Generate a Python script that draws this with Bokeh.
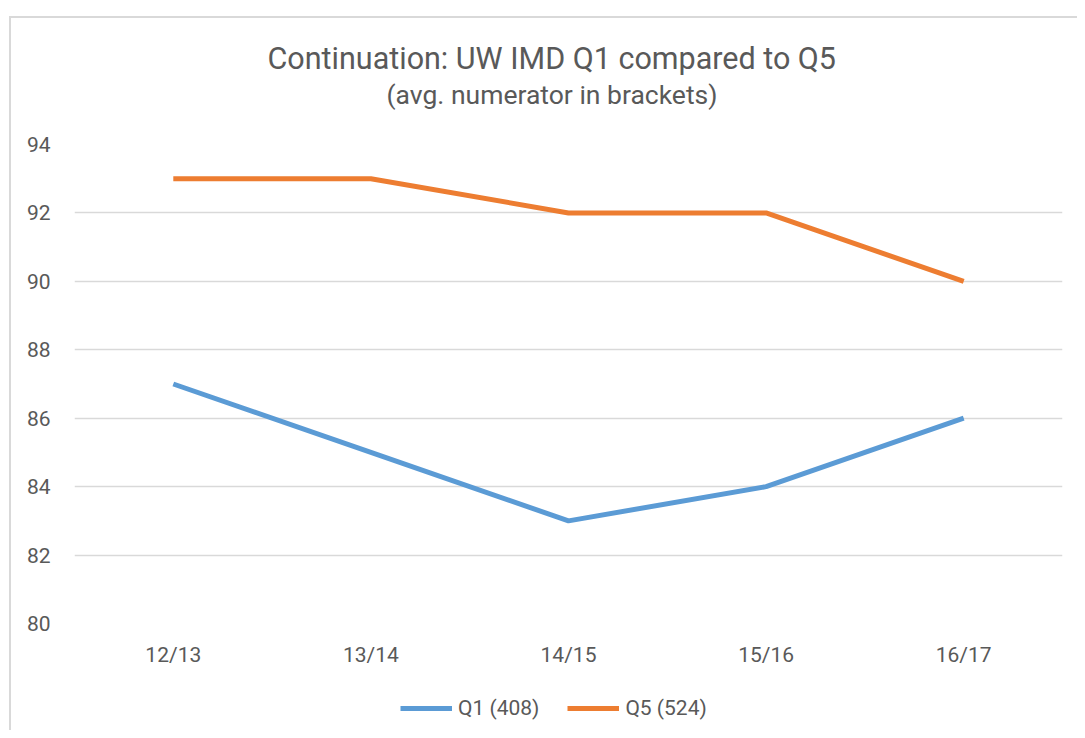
from bokeh.plotting import figure
from bokeh.models import Legend, LegendItem, Title, Range1d, FactorRange
from bokeh.layouts import column
from bokeh.embed import file_html
from bokeh.resources import INLINE

categories = ["12/13", "13/14", "14/15", "15/16", "16/17"]
q1_values = [87, 85, 83, 84, 86]
q5_values = [93, 93, 92, 92, 90]
series_names = ["Q1 (408)", "Q5 (524)"]
series_colors = ["#5B9BD5", "#ED7D31"]
title_text = "Continuation: UW IMD Q1 compared to Q5"
subtitle_text = "(avg. numerator in brackets)"
y_ticks = [80, 82, 84, 86, 88, 90, 92, 94]

FONT = "Roboto"
TXT = "#595959"
GRID = "#d9d9d9"

W, H1, H2 = 1066, 660, 52
p = figure(width=W, height=H1, x_range=FactorRange(*categories, range_padding=0),
           y_range=Range1d(80, 94), output_backend="svg", toolbar_location=None,
           title=None,
           min_border_left=63, min_border_right=15, min_border_top=126, min_border_bottom=55)
p.outline_line_color = None
p.background_fill_color = "white"
p.border_fill_color = "white"

p.xgrid.grid_line_color = None
p.ygrid.grid_line_color = GRID
p.ygrid.grid_line_width = 1.5
p.yaxis.ticker = y_ticks

for ax in (p.xaxis[0], p.yaxis[0]):
    ax.axis_line_color = None
    ax.major_tick_line_color = None
    ax.minor_tick_line_color = None
    ax.major_tick_out = 0
    ax.major_tick_in = 0
    ax.minor_tick_out = 0
    ax.major_label_text_font = FONT
    ax.major_label_text_font_size = "21px"
    ax.major_label_text_color = TXT
p.xaxis.major_label_standoff = 19
p.yaxis.major_label_standoff = 24

p.line(categories, q1_values, line_color=series_colors[0], line_width=5, line_join="round")
p.line(categories, q5_values, line_color=series_colors[1], line_width=5, line_join="round")

# spacer, subtitle, title (stacked upward from the plot frame)
p.add_layout(Title(text=" ", standoff=22, text_font=FONT, text_font_size="10px"), "above")
p.add_layout(Title(text=subtitle_text, align="left", offset=312, standoff=0,
                   text_font=FONT, text_font_size="26.5px", text_font_style="normal",
                   text_color=TXT), "above")
p.add_layout(Title(text=title_text, align="left", offset=193, standoff=2,
                   text_font=FONT, text_font_size="30.5px", text_font_style="normal",
                   text_color=TXT), "above")

# legend strip below the chart (its frame is aligned with the chart's frame)
p2 = figure(width=W, height=H2, x_range=Range1d(0, 1), y_range=Range1d(0, 1),
            output_backend="svg", toolbar_location=None, title=None,
            x_axis_location=None, y_axis_location=None,
            min_border_left=0, min_border_right=0, min_border_top=0, min_border_bottom=0)
p2.outline_line_color = None
p2.grid.visible = False
p2.border_fill_color = "white"
nan = float("nan")
l1 = p2.line([nan], [nan], line_color=series_colors[0], line_width=5)
l5 = p2.line([nan], [nan], line_color=series_colors[1], line_width=5)
legend = Legend(items=[LegendItem(label=series_names[0], renderers=[l1]),
                       LegendItem(label=series_names[1], renderers=[l5])],
                orientation="horizontal", location=(326, 10),
                glyph_width=52, glyph_height=20, label_standoff=6, spacing=28,
                padding=0, margin=0, border_line_color=None, background_fill_alpha=0,
                label_text_font=FONT, label_text_font_size="21px", label_text_color=TXT)
p2.add_layout(legend, "center")

layout = column(p, p2, spacing=0)
layout.styles = {"margin-top": "16px", "margin-left": "9px",
                 "border-left": "2px solid #d9d9d9", "border-top": "2px solid #d9d9d9"}

open("out.html", "w").write(file_html(layout, INLINE))
